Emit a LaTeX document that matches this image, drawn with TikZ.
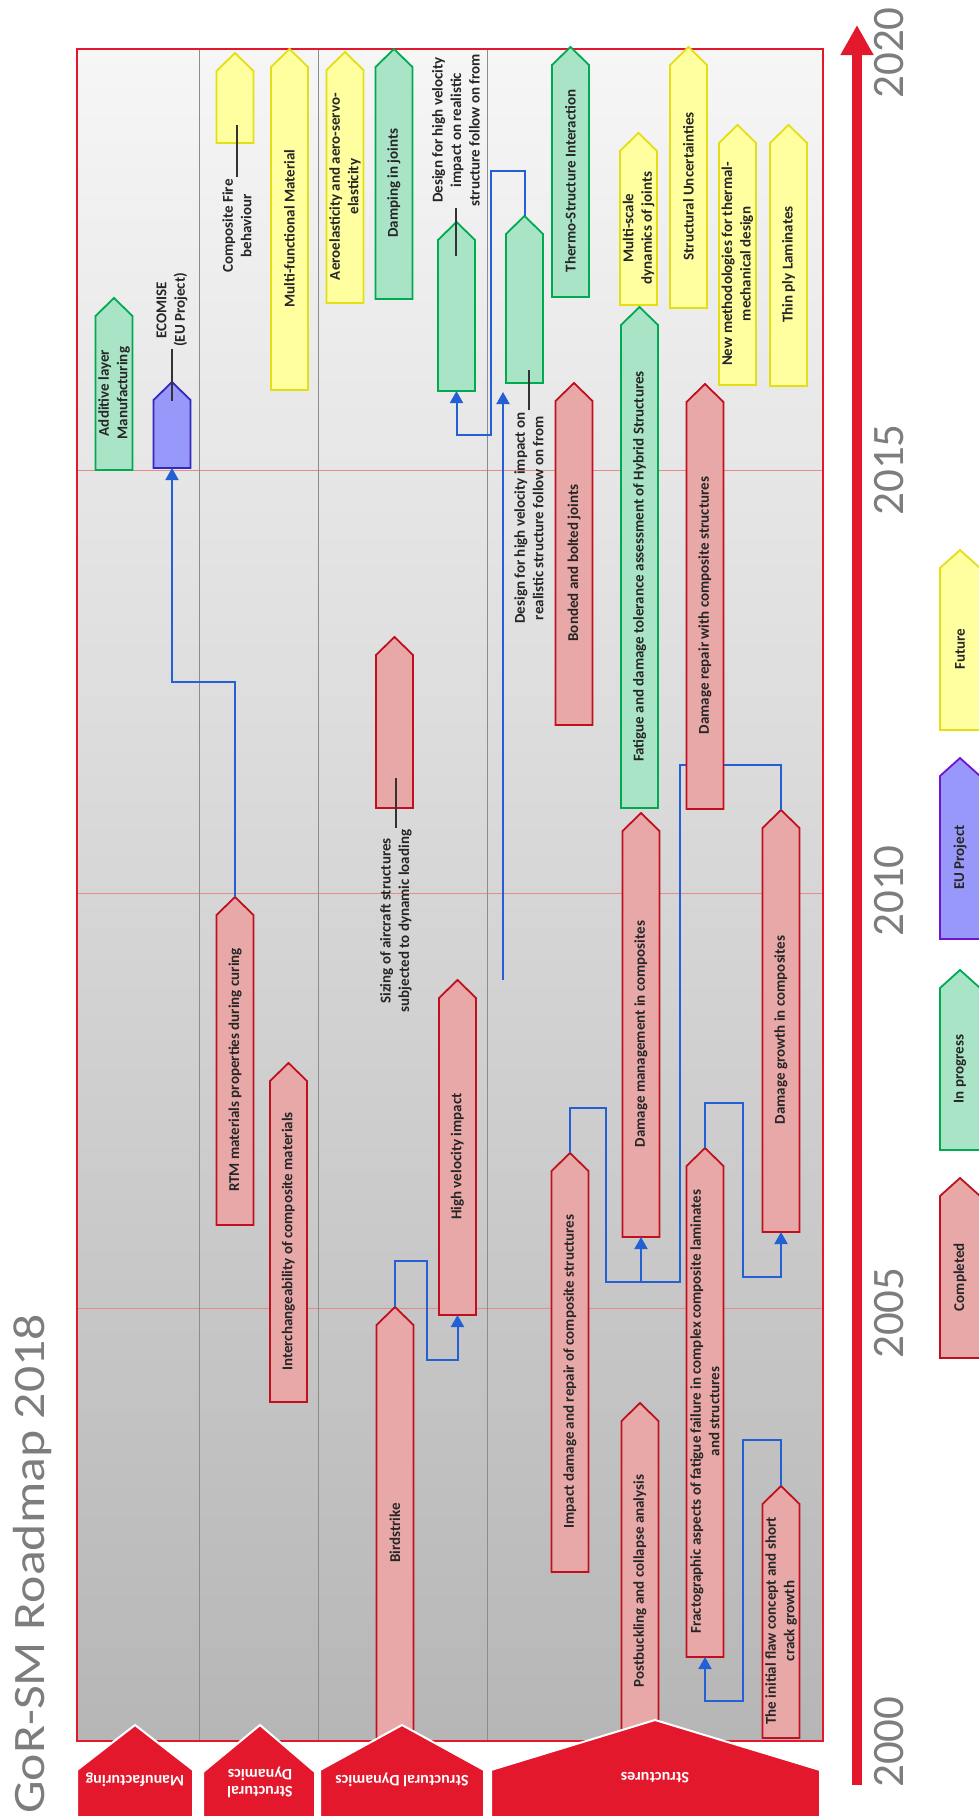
\documentclass[tikz,border=0pt]{standalone}
\usepackage{fontspec}
\setmainfont{Carlito}
\newfontfamily\titlefont[FakeStretch=1.15]{Carlito}
\usetikzlibrary{arrows.meta}

\definecolor{doneline}{RGB}{192,16,32}
\definecolor{donefill}{RGB}{233,168,168}
\definecolor{progline}{RGB}{0,170,80}
\definecolor{progfill}{RGB}{170,228,198}
\definecolor{euline}{RGB}{50,40,190}
\definecolor{eulegline}{RGB}{112,20,210}
\definecolor{eufill}{RGB}{152,152,250}
\definecolor{futline}{RGB}{228,222,20}
\definecolor{futfill}{RGB}{255,255,160}
\definecolor{linkblue}{RGB}{34,96,212}
\definecolor{roadred}{RGB}{227,24,44}
\definecolor{gridred}{RGB}{228,140,140}
\definecolor{lanegray}{RGB}{140,140,140}
\definecolor{yeargray}{RGB}{125,125,125}
\definecolor{bgtop}{RGB}{246,246,246}
\definecolor{bgbot}{RGB}{182,182,182}

% one roadmap item: name, style, x, tip y, bottom y, text (pixel units)
\newcommand{\taskwd}{37}
\newcommand{\roadtask}[6]{%
  \node[taskbody, minimum width=\taskwd*1pt, minimum height={(#5-#4-18)*1pt}] (#1) at (#3,{(#4+18+#5)/2}) {};
  \draw[#2] (#1.south west) -- (#1.north west) -- ([yshift=18pt]#1.north) coordinate (#1-tip)
    -- (#1.north east) -- (#1.south east) -- cycle;
  \node[tasktext] at (#1) {#6};
}

\begin{document}
\begin{tikzpicture}[x=1pt, y=-1pt,
    completed/.style={draw=doneline, fill=donefill, line width=1.8pt},
    inprogress/.style={draw=progline, fill=progfill, line width=1.8pt},
    euproject/.style={draw=euline, fill=eufill, line width=1.8pt},
    eulegend/.style={draw=eulegline, fill=eufill, line width=1.8pt},
    futurework/.style={draw=futline, fill=futfill, line width=1.8pt},
    taskbody/.style={inner sep=0pt, outer sep=0pt},
    tasktext/.style={rotate=90, align=center, inner sep=0pt, text=black!85,
      font=\fontsize{15}{18.5}\selectfont\bfseries},
    tasklbl/.style={tasktext, inner sep=2pt},
    roadlink/.style={draw=linkblue, line width=2pt, -{Triangle[width=13pt,length=12pt]}},
    roadwire/.style={draw=linkblue, line width=2pt},
    leader/.style={draw=black!80, line width=1.3pt},
    catbox/.style={fill=roadred, draw=white, line width=2pt},
    cattext/.style={rotate=180, align=center, text=white, inner sep=0pt,
      font=\fontsize{16}{17}\selectfont\bfseries},
    yearlbl/.style={rotate=90, inner sep=0pt, text=yeargray, font=\fontsize{45}{45}\selectfont}
  ]
  \useasboundingbox (0,0) rectangle (979,1816);

  % frame, lanes and years
  \fill[top color=bgtop, bottom color=bgbot] (77,49) rectangle (823,1741);
  \foreach \yy in {470,893,1308}
    \draw[gridred, line width=0.8pt] (77,\yy) -- (823,\yy);
  \foreach \xx in {199,318,487}
    \draw[lanegray, line width=1pt] (\xx,49) -- (\xx,1741);
  \draw[roadred, line width=1.5pt] (77,49) rectangle (823,1741);

  % Manufacturing
  \roadtask{addlayer}{inprogress}{114}{298}{470}{Additive layer\\Manufacturing}
  \roadtask{ecomise}{euproject}{172}{382}{468}{}

  % Structural Dynamics
  \roadtask{fire}{futurework}{235}{53}{143}{}
  \roadtask{multifunc}{futurework}{289.5}{49}{390}{Multi-functional Material}
  \roadtask{rtm}{completed}{235}{897}{1225}{RTM materials properties during curing}
  \roadtask{interchange}{completed}{288.5}{1063}{1402}{Interchangeability of composite materials}

  \roadtask{aeroelastic}{futurework}{345}{52}{303}{Aeroelasticity and aero-servo-\\elasticity}
  \roadtask{damping}{inprogress}{394}{49}{299}{Damping in joints}
  \roadtask{dsgnA}{inprogress}{456.5}{222}{391}{}
  \roadtask{sizing}{completed}{394.5}{637}{808}{}
  \roadtask{hvi}{completed}{457.5}{980}{1315}{High velocity impact}

  % loose link from high velocity impact
  \coordinate (hvi-link) at (503,980);
  \coordinate (hvi-end) at (503,392);
  \draw[roadlink] (hvi-link) -- (hvi-end);

  \roadtask{birdstrike}{completed}{395}{1307}{1741}{Birdstrike}

  % Structures
  \roadtask{dsgnB}{inprogress}{524.5}{216}{383}{}
  \roadtask{thermo}{inprogress}{570.5}{47}{297}{Thermo-Structure Interaction}
  \roadtask{bonded}{completed}{574}{383}{725}{Bonded and bolted joints}
  \roadtask{multiscale}{futurework}{638.5}{133}{305}{Multi-scale\\dynamics of joints}
  \roadtask{hybrid}{inprogress}{639.5}{307}{808}{Fatigue and damage tolerance assessment of Hybrid Structures}
  \roadtask{uncert}{futurework}{688.5}{47}{308}{Structural Uncertainties}
  \roadtask{thermal}{futurework}{737.5}{125}{385}{New methodologies for thermal-\\mechanical design}
  \roadtask{thinply}{futurework}{788.5}{125}{386}{Thin ply Laminates}
  \roadtask{management}{completed}{641}{813}{1237}{Damage management in composites}
  \roadtask{growth}{completed}{781}{810}{1232}{Damage growth in composites}
  \roadtask{impact}{completed}{570}{1153}{1572}{Impact damage and repair of composite structures}
  \roadtask{fracto}{completed}{705}{1148}{1657}{Fractographic aspects of fatigue failure in complex composite laminates\\and structures}
  \roadtask{postbuck}{completed}{640}{1403}{1741}{Postbuckling and collapse analysis}
  \roadtask{flaw}{completed}{781}{1486}{1738}{The initial flaw concept and short\\crack growth}

  % this one runs under the repair box
  \draw[roadwire] (impact-tip) |- (606,1108) |- (680,1282) |- (781,765) -- (growth-tip);
  \roadtask{repair}{completed}{705}{384}{809}{Damage repair with composite structures}

  \draw[roadlink] (birdstrike-tip) |- (427,1261) |- ([yshift=-45pt]hvi.south) -- (hvi.south);
  \draw[roadlink] ([yshift=-45pt]management.south) -- (management.south);
  \draw[roadlink] (fracto-tip) |- (743,1103) |- ([yshift=-45pt]growth.south) -- (growth.south);
  \draw[roadlink] (flaw-tip) |- (743,1440) |- ([yshift=-44pt]fracto.south) -- (fracto.south);
  \draw[roadlink] (rtm-tip) |- ([yshift=-214pt]ecomise.south) -- (ecomise.south);
  \draw[roadlink] (dsgnB-tip) |- (491,171) |- ([yshift=-44pt]dsgnA.south) -- (dsgnA.south);

  % labels beside boxes
  \node[tasklbl] (ecomiselbl) at (172,310) {ECOMISE\\(EU Project)};
  \draw[leader] (ecomiselbl.west) -- ++(0,52);
  \node[tasklbl] (firelbl) at (237,226) {Composite Fire\\behaviour};
  \draw[leader] (firelbl.east) -- ++(0,-52);
  \node[tasklbl] (dsgnAlbl) at (456,130) {Design for high velocity\\impact on realistic\\structure follow on from};
  \draw[leader] (dsgnAlbl.west) -- ++(0,48);
  \node[tasklbl] (sizinglbl) at (396,921) {Sizing of aircraft structures\\subjected to dynamic loading};
  \draw[leader] (sizinglbl.east) -- ++(0,-50);
  \node[tasklbl] (dsgnBlbl) at (529,518) {Design for high velocity impact on\\realistic structure follow on from};
  \draw[leader] (dsgnBlbl.east) -- ++(0,-40);

  % category tabs
  \draw[catbox] (77,1830) -- (77,1770) -- (135,1725) -- (193,1770) -- (193,1830) -- cycle;
  \draw[catbox] (203,1830) -- (203,1772) -- (260,1725) -- (315,1772) -- (315,1830) -- cycle;
  \draw[catbox] (320,1830) -- (320,1770) -- (402,1725) -- (484,1770) -- (484,1830) -- cycle;
  \draw[catbox] (491,1830) -- (491,1770) -- (655,1720) -- (820,1770) -- (820,1830) -- cycle;
  \node[cattext] (catman) at (135,1780) {Manufacturing};
  \node[cattext] (catdynA) at (260,1782) {Structural\\Dynamics};
  \node[cattext] (catdynB) at (402,1780) {Structural Dynamics};
  \node[cattext] (catstruct) at (655,1778) {Structures};

  % time axis
  \coordinate (axisstart) at (857,1785);
  \coordinate (axisend) at (857,25);
  \draw[roadred, line width=10pt, -{Triangle[width=31pt,length=30pt]}] (axisstart) -- (axisend);
  \node[yearlbl] (y2000) at (889,1742) {2000};
  \node[yearlbl] (y2005) at (889,1313) {2005};
  \node[yearlbl] (y2010) at (889,891) {2010};
  \node[yearlbl] (y2015) at (889,470) {2015};
  \node[yearlbl] (y2020) at (889,53) {2020};

  \node[rotate=90, anchor=base west, inner sep=0pt, text=yeargray,
    font=\titlefont\fontsize{45}{45}\selectfont] (title) at (44,1814) {GoR-SM Roadmap 2018};

  % legend
  \renewcommand{\taskwd}{40}
  \roadtask{lgdone}{completed}{960}{1178}{1358}{Completed}
  \roadtask{lgprog}{inprogress}{960}{970}{1150}{In progress}
  \roadtask{lgeu}{eulegend}{960}{758}{939}{EU Project}
  \roadtask{lgfuture}{futurework}{960}{550}{730}{Future}
\end{tikzpicture}
\end{document}
